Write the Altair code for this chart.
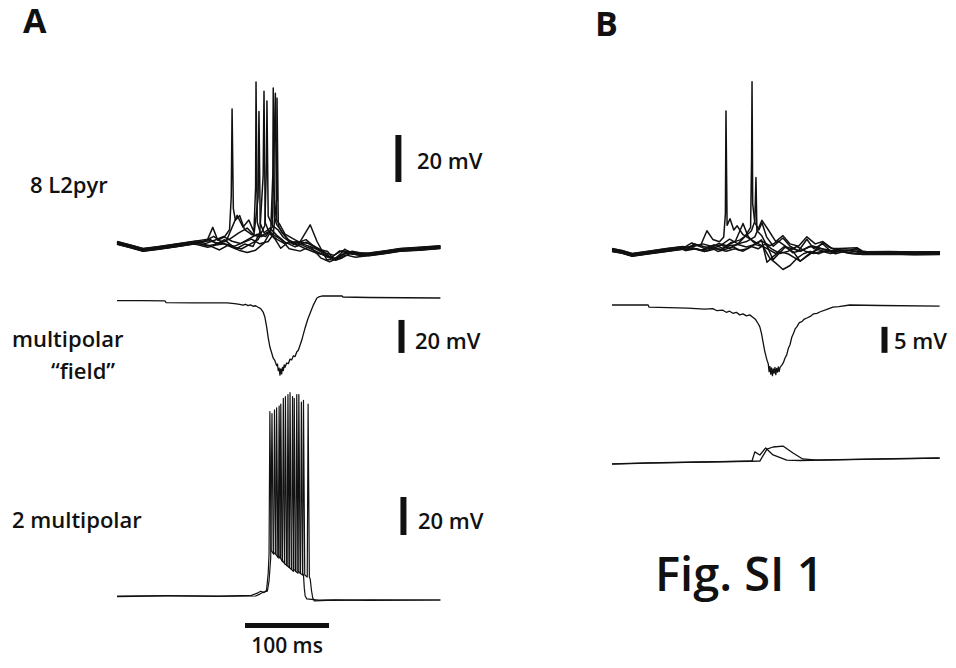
import altair as alt
import pandas as pd

# ---------------- data: time in ms, membrane potential in mV ----------------
# Panel A, row 1: eight L2 pyramidal cells (shared flanks + individual middles)
A1_PRE = [(0, 0.9), (15, -0.5), (31, -2.1), (50, -1.2), (70, -0.2), (90, 0.9)]
A1_POST = [(300, -4.0), (320, -3.0), (337, -2.1), (360, -1.6), (385, -0.9)]
A1_SHIFT = [0.5, -0.4, 0.2, -0.6, 0.3, -0.2, 0.6, -0.5]
A1_T1 = [(95, 1.2), (108, 2.0), (114, 7.0), (120, 1.5), (128, 3.0), (134, 6.0), (136, 20), (137, 57.4), (138.5, 15), (141, 10), (146, 12), (152, 6), (160, 4), (170, 3), (180, 5), (190, 2), (200, 0), (215, 1), (230, 0), (245, -3), (255, -6), (265, -3), (275, -4), (290, -4.2)]
A1_T2 = [(95, 1.0), (110, 3.0), (118, 1.0), (130, 2.0), (143, 13.0), (150, 8.0), (157, 11.0), (163, 6), (165, 25), (165.5, 69.8), (167, 10), (172, 4), (180, 6), (188, 3), (195, -1), (205, 2), (215, 0), (230, 9), (238, 2), (250, -6), (262, -5), (272, -3), (290, -4)]
A1_T3 = [(95, 0.5), (105, 1.5), (115, 3.5), (125, 1), (135, 2.5), (145, 5), (155, 7), (163, 4), (168, 20), (169, 56.6), (170.5, 9), (175, 5), (182, 7), (190, 4), (200, 1), (212, -1), (225, 1), (240, -2), (251, -3), (258, -6.5), (266, -4), (271, -2), (280, -4), (292, -4.3)]
A1_T4 = [(95, 1.3), (112, 0), (122, -1.5), (132, 0.5), (142, -1), (152, 1), (162, 0), (170, 6), (174, 30), (175, 66), (176.5, 10), (180, 7), (186, 5), (195, 3), (205, -1), (218, -2), (230, 0), (243, -5), (253, -6.5), (263, -5), (275, -2), (285, -3), (295, -4)]
A1_T5 = [(95, 0.8), (110, 1.5), (120, 0.5), (128, 2), (138, -1), (148, -2), (158, 0), (168, 2), (176, 8), (178, 35), (178.5, 61), (180, 12), (185, 8), (192, 6), (198, 3), (210, 0), (225, 2), (238, -2), (250, -5), (260, -6), (270, -4), (280, -3), (295, -4)]
A1_T6 = [(95, 1.0), (110, 0), (125, 1), (135, -0.5), (145, -2), (155, -3), (165, -2), (175, 1), (183, 6), (185.5, 30), (186, 67), (187.5, 12), (190, 9), (196, 6), (205, 2), (215, 1), (228, -1), (240, -3), (251, -5), (262, -6), (272, -4), (284, -5), (295, -4.5)]
A1_T7 = [(95, 1.1), (105, 0), (117, 1.5), (127, 3), (137, 1), (147, 0), (157, 2), (167, 4), (177, 3), (185, 7), (188.5, 64), (190, 10), (194, 8), (200, 4), (210, 2), (220, 0), (235, -2), (248, -4), (258, -5), (268, -3), (276, -3.5), (290, -4)]
A1_T8 = [(95, 0.7), (108, -0.5), (118, 0.5), (128, 1), (140, 0), (150, 1.5), (160, 3), (170, 1), (180, 2), (186, 5), (190, 20), (190.5, 63), (192, 9), (196, 6), (203, 3), (212, 1), (224, -1), (238, -3), (250, -4), (260, -6), (268, -5), (278, -3), (290, -4)]

# Panel A, row 2: multipolar "field"
A2_FIELD = [(0, -1.6), (30, -1.6), (57, -1.8), (58.5, -2.8), (90, -2.9), (131, -3.0), (140, -3.4), (146, -3.9), (150, -4.3), (153, -3.8), (156, -4.6), (159, -4.2), (162, -5.0), (165, -4.7), (168, -5.6), (171, -6.4), (174, -8.5), (176, -11.5), (178, -17), (180, -24), (182, -29.7), (184, -33), (186, -36.5), (188, -38), (190, -41), (191, -40), (192, -44), (193, -42.5), (194, -46.7), (195, -43), (196, -46), (197, -42), (198, -44), (199, -40.5), (200, -42), (202, -39.4), (204, -39.8), (206, -37), (208, -37.5), (210, -35), (212, -35.5), (214, -32.7), (216, -31.5), (218, -28.5), (220, -25.5), (221, -23.6), (224, -18), (227, -13), (230, -9.1), (234, -4), (238, 0), (241, 0.8), (244, 1.2), (268, 1.2), (269, 0.6), (300, 0.3), (385, 0)]

# Panel A, row 3: two multipolar cells
A3_T1 = [(0, 0), (60, 0.2), (120, 0), (160, 0.3), (167, 1.5), (171, 2.5), (175, 1.8), (178, 3), (180, 12), (181, 22), (182, 97), (183.5, 24), (186.5, 22), (187.5, 98), (189, 22), (192, 20), (193, 100), (194.5, 20), (197, 18), (198, 104), (199.5, 17), (202.5, 16), (203.5, 106), (205, 15), (208, 14), (209, 105), (210.5, 14), (213, 13), (214, 106), (215.5, 13), (218.5, 12), (219.5, 102), (221, 12), (222, 11), (223, 4), (224, 0), (226, -1.5), (240, -2.2), (260, -2), (300, -2.3), (385, -2.1)]
A3_T2 = [(0, -0.3), (60, 0), (120, -0.2), (165, 0), (170, 1), (174, 2), (179, 2.5), (181, 8), (183, 20), (184.5, 96), (186, 23), (189, 22), (190, 99), (191.5, 21), (194, 20), (195, 101), (196.5, 19), (199.5, 17), (200.5, 105), (202, 16), (205, 15), (206, 107), (207.5, 14), (210, 13), (211, 104), (212.5, 13), (215.5, 12), (216.5, 106), (218, 12), (221, 11), (222, 103), (223.5, 11), (226.5, 10), (227.5, 101), (229, 10), (230, 9), (231.5, 3), (233, -1), (235, -2.6), (250, -2.3), (300, -2), (385, -2.1)]

# Panel B, row 1: eight L2 pyramidal cells
B1_PRE = [(0, 0), (12, -0.8), (24, -2.1), (45, -1.0), (65, 0), (84.5, 0.9)]
B1_POST = [(303.5, -1.3), (330, -1.2), (360, -1.4), (390.5, -1.3)]
B1_SHIFT = [0.5, -0.4, 0.2, -0.6, 0.3, -0.2, 0.6, -0.5]
B1_T1 = [(88, 1), (95, 2.5), (105, 1), (113, 7.7), (120, 4), (128, 3), (133, 5), (135, 15), (135.7, 58.7), (137, 10), (140.5, 12.8), (145, 8), (149, 9.8), (156, 6), (165, 4), (175, 2), (185, 0), (195, -2), (205, 1), (215, 0), (225, -1), (235, 1), (250, 0), (265, -1), (280, -0.5), (295, -1.2)]
B1_T2 = [(88, 0.5), (98, 3), (108, 2), (118, 1), (128, 2), (140, 5), (150, 3), (158, 6), (165, 10), (166.2, 40), (166.7, 72), (167.5, 20), (170, 12), (175, 9), (178.5, 12), (184, 6), (192, 2), (203.5, 5.5), (212, 2), (222, 0), (232, 5), (240, 1), (251, 3), (260, 0), (271, 0), (282, -1), (295, -1.3)]
B1_T3 = [(88, 0.8), (100, 2), (110, 0.5), (122, 2), (132, 0.5), (142, 3), (152, 4), (160, 6), (166, 8), (170, 12), (171.4, 30.6), (172.5, 8), (178, 6), (184, 2), (191.7, -4.3), (198, -2), (206, 1), (216, -1), (224, -5), (234, -2), (245, 0), (255, -1), (268, 0), (282, -0.5), (295, -1.3)]
B1_T4 = [(88, 0.4), (96, 1.5), (106, 0.5), (116, 2), (126, 0), (136, 1), (144, 2), (152, 0.5), (160, 1), (170, 3), (180, 2), (188, -3), (195, -5), (203.5, -7.7), (212, -6), (220, -3), (228, -1), (236, 0), (246, -1), (256, 0.5), (266, -1), (276, 0), (288, -0.8), (298, -1.3)]
B1_T5 = [(88, 1), (100, 0), (110, -1), (120, 0.5), (130, 0), (140, 1.5), (150, 2), (160, 1), (170, 2), (178, 4), (184.5, -5.5), (192, -3), (200, -1), (210, -2), (224, -5), (232, -3), (240, -1), (251, 3), (258, 1), (265, 0), (275, -1), (291.5, 0.4), (298, -1.2)]
B1_T6 = [(88, 0.6), (97, 1), (107, 0), (117, 1), (127, 3), (137, 2), (147, 4), (156, 11.5), (162, 6), (170, 3), (178, 4), (188, 2), (198, 4), (206, 2), (215, -1), (225, 0), (238, 2), (248, 1), (258, -0.5), (271, 0), (282, 0), (291.5, 0.4), (298, -1)]
B1_T7 = [(88, 0.5), (98, 1), (108, 2), (118, 1), (130, 1.5), (140, 0), (150, 2), (160, 3), (170, 5), (178.5, 12), (186, 8), (195, 3), (203.5, 5.5), (212, 2), (222, 1), (232, 5), (242, 2), (251, 3), (262, 0), (271, 0), (291.5, 0.4), (298, -1)]
B1_T8 = [(88, 0.3), (100, 1), (112, 0), (124, 1), (136, 0), (146, 1), (156, 0), (166, 2), (174, 1), (182, 3), (190, 1), (200, -1), (210, 0), (220, 2), (230, 0), (240, -1), (250, 0), (260, -1), (272, 0), (285, -1), (298, -1.3)]

# Panel B, row 2: field
B2_FIELD = [(0, 0), (43, 0), (44, -0.4), (90, -0.6), (110, -0.8), (120, -0.7), (125, -1.1), (132, -1.0), (136, -1.4), (140, -1.2), (144, -1.6), (148, -1.4), (152, -1.9), (156, -1.7), (160, -2.1), (164, -1.9), (168, -2.4), (171, -2.8), (174, -3.6), (176, -4.2), (178, -5.5), (180, -7.3), (182, -9), (184.5, -10.6), (186, -11.3), (187, -12.8), (188, -11.8), (189, -13.3), (190, -12.1), (191, -13.6), (192, -12.3), (193, -13.1), (194, -12), (195, -13.4), (196, -12.2), (197, -12.9), (198, -11.9), (199, -12.8), (200, -12.0), (202, -11.6), (204, -11.1), (206, -10.2), (208, -9.6), (210, -8.3), (212, -7.6), (214, -6.2), (216, -5.5), (218, -4.6), (220, -4.2), (223, -3.4), (226, -3.2), (229, -2.7), (232, -2.5), (236, -2.2), (240, -1.7), (244, -1.6), (248, -1.3), (255, -0.9), (263, -0.4), (270, -0.3), (283, 0), (320, -0.1), (390, -0.2)]

# Panel B, row 3: two multipolar cells
B3_T1 = [(0, -1), (42, -0.5), (105, 0), (164, 0.5), (166.7, 0.5), (170, 5.3), (176, 3.7), (183, 7.4), (191.7, 3.7), (208, 1), (224, 0.8), (300, 1.5), (390, 2.1)]
B3_T2 = [(0, -1.1), (42, -0.6), (105, -0.1), (164, 0.4), (176, 0.5), (184.5, 6.8), (191.7, 7.9), (203.5, 8.4), (215.5, 4.7), (227, 1.6), (244, 1), (300, 1.4), (390, 2.0)]

# scale bars: (row, time ms, low mV, high mV) and the 100 ms bar
SCALE_V = [("A1", 335, 26.8, 46.8), ("A2", 338.7, -33.3, -13.3), ("A3", 341, 32.1, 52.1), ("B2", 324.4, -9.2, -4.2)]
SCALE_T = [("A3", 152.4, 252.4, -15.5)]

# ---------------- layout ----------------
W, H = 940, 652
K = 0.84          # px per ms
X0 = 117          # page x of t = 0 in panel A
B_OFF = (612 - 117) / K
ROWS = {  # baseline page-y, px per mV, time offset
    "A1": (245, 2.35, 0), "A2": (298, 1.65, 0), "A3": (596, 1.9, 0),
    "B1": (250, 2.35, B_OFF), "B2": (305, 5.2, B_OFF), "B3": (462, 1.9, B_OFF),
}
XDOM = [(8 - X0) / K, (8 + W - X0) / K]
YDOM = [8, 8 + H]


def place(row, t, v):
    base, gain, off = ROWS[row]
    return t + off, base - gain * v


records = []


def add(row, name, pts, grp, shift=0.0):
    for i, (t, v) in enumerate(pts):
        x, y = place(row, t, v + shift)
        records.append(dict(trace=name, i=i, x=x, y=y, grp=grp))


for k, mid in enumerate([A1_T1, A1_T2, A1_T3, A1_T4, A1_T5, A1_T6, A1_T7, A1_T8]):
    add("A1", f"A1_{k}", A1_PRE + mid + A1_POST, "pyr", A1_SHIFT[k])
for k, mid in enumerate([B1_T1, B1_T2, B1_T3, B1_T4, B1_T5, B1_T6, B1_T7, B1_T8]):
    add("B1", f"B1_{k}", B1_PRE + mid + B1_POST, "pyr", B1_SHIFT[k])
add("A2", "A2", A2_FIELD, "field")
add("B2", "B2", B2_FIELD, "field")
add("A3", "A3_0", A3_T1, "mp")
add("A3", "A3_1", A3_T2, "mp")
add("B3", "B3_0", B3_T1, "field")
add("B3", "B3_1", B3_T2, "field")
df = pd.DataFrame(records)

vbars = []
for row, t, lo, hi in SCALE_V:
    x, y1 = place(row, t, lo)
    _, y2 = place(row, t, hi)
    vbars.append(dict(x=x, y=y1, y2=y2))
vb = pd.DataFrame(vbars)
tbars = []
for row, t1, t2, v in SCALE_T:
    x1, y = place(row, t1, v)
    x2, _ = place(row, t2, v)
    tbars.append(dict(x=x1, x2=x2, y=y))
tb = pd.DataFrame(tbars)

xs = alt.Scale(domain=XDOM, nice=False, zero=False)
ys = alt.Scale(domain=YDOM, nice=False, zero=False, reverse=True)
X = alt.X("x:Q", scale=xs, axis=None)
Y = alt.Y("y:Q", scale=ys, axis=None)

INK = "#111111"


def lines(grp, width):
    return alt.Chart(df[df.grp == grp]).mark_line(color=INK, strokeWidth=width, strokeJoin="round").encode(
        x=X, y=Y, detail="trace:N", order="i:Q")


vrule = alt.Chart(vb).mark_rule(color=INK, strokeWidth=6).encode(x=X, y=Y, y2="y2:Q")
trule = alt.Chart(tb).mark_rule(color=INK, strokeWidth=5).encode(x=X, x2="x2:Q", y=Y)


def tx(px):
    return (px - X0) / K


LETTERS = pd.DataFrame([dict(x=tx(23), y=23, text="A"), dict(x=tx(595), y=26, text="B")])
ROWLAB = pd.DataFrame([
    dict(x=tx(30), y=186, text="8 L2pyr"),
    dict(x=tx(12), y=340, text="multipolar"),
    dict(x=tx(51), y=372, text="\u201cfield\u201d"),
    dict(x=tx(12), y=521, text="2 multipolar"),
    dict(x=tx(417), y=162, text="20 mV"),
    dict(x=tx(415), y=342, text="20 mV"),
    dict(x=tx(418), y=522, text="20 mV"),
    dict(x=tx(894), y=342, text="5 mV"),
])
MS = pd.DataFrame([dict(x=tx(287), y=647, text="100 ms")])
FIG = pd.DataFrame([dict(x=tx(655), y=577, text="Fig. SI 1")])

FONT = "Open Sans"
letters = alt.Chart(LETTERS).mark_text(font=FONT, fontSize=34, fontWeight="bold", align="left",
                                       baseline="middle", color=INK).encode(x=X, y=Y, text="text:N")
rowlab = alt.Chart(ROWLAB).mark_text(font=FONT, fontSize=22, fontWeight=600, align="left",
                                     baseline="middle", color=INK).encode(x=X, y=Y, text="text:N")
ms = alt.Chart(MS).mark_text(font=FONT, fontSize=21, fontWeight=600, align="center",
                             baseline="middle", color=INK).encode(x=X, y=Y, text="text:N")
fig = alt.Chart(FIG).mark_text(font=FONT, fontSize=47, fontWeight=600, align="left",
                               baseline="middle", color=INK).encode(x=X, y=Y, text="text:N")

chart = alt.layer(
    lines("pyr", 1.5), lines("field", 1.3), lines("mp", 1.2),
    vrule, trule, letters, rowlab, ms, fig,
).properties(
    width=W, height=H, padding=0, autosize=alt.AutoSizeParams(type="none"), background="white"
).configure_view(stroke=None)

chart.save("out.html", embed_options={"renderer": "svg", "actions": False})
